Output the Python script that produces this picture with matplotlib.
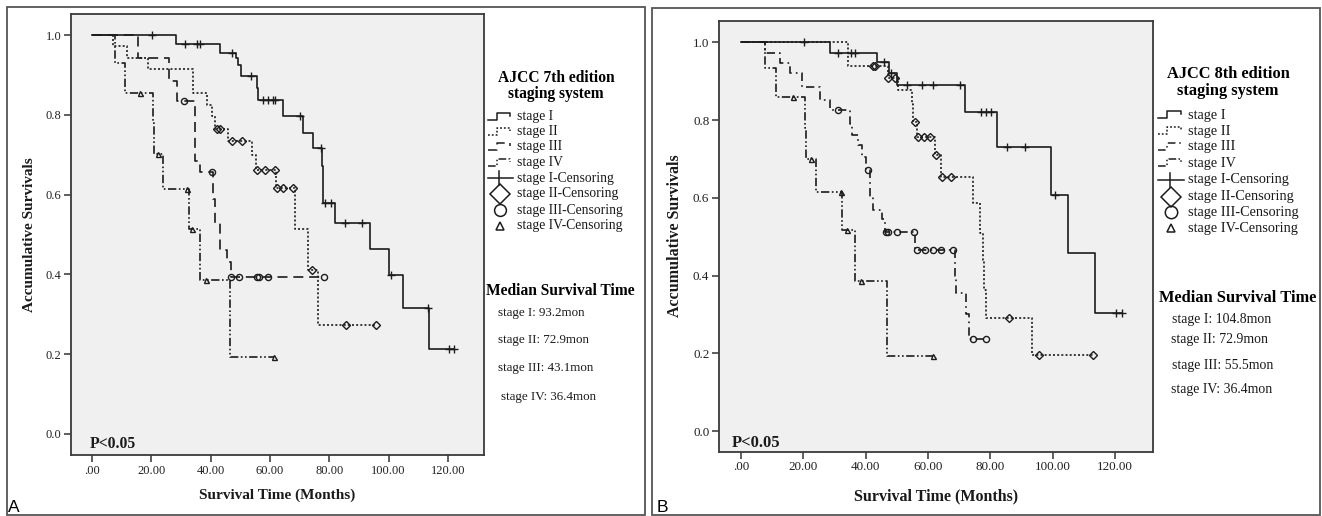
import numpy as np
import matplotlib.pyplot as plt
from matplotlib.lines import Line2D
from matplotlib.patches import Rectangle

plt.rcParams['font.family'] = ['Liberation Serif', 'DejaVu Serif']

W, H = 1322, 516

stages = ['stage I', 'stage II', 'stage III', 'stage IV']

# panel A, AJCC 7th edition: event times (months), survival after event, censor times
a7_I_t = [28.2, 43.2, 48.5, 49.3, 50.1, 55.5, 56.1, 64.5, 71.3, 74.6, 77.5, 78.0, 82.0, 93.8, 100.0, 105.0, 113.7]
a7_I_s = [0.979, 0.956, 0.943, 0.926, 0.897, 0.868, 0.838, 0.797, 0.755, 0.717, 0.671, 0.579, 0.529, 0.463, 0.399, 0.315, 0.212]
a7_I_c = [20.1, 31.4, 35.3, 36.4, 47.2, 53.5, 57.8, 59.5, 60.9, 61.7, 70.2, 77.1, 78.6, 80.5, 85.3, 91.0, 100.8, 113.2, 120.5, 122.0]

a7_II_t = [7.2, 11.9, 19.0, 34.2, 38.7, 40.4, 41.5, 46.0, 53.9, 55.3, 62.2, 68.5, 73.0, 76.3]
a7_II_s = [0.972, 0.943, 0.914, 0.855, 0.826, 0.797, 0.765, 0.734, 0.700, 0.663, 0.617, 0.514, 0.410, 0.273]
a7_II_c = [42.2, 43.0, 47.1, 50.5, 55.5, 58.3, 61.7, 62.5, 64.5, 67.7, 74.3, 85.6, 95.8]

a7_III_t = [15.6, 26.0, 28.6, 34.7, 36.4, 40.9, 41.5, 43.2, 45.4, 46.8]
a7_III_s = [0.943, 0.886, 0.834, 0.685, 0.656, 0.590, 0.529, 0.462, 0.430, 0.394]
a7_III_c = [31.1, 40.4, 46.9, 49.6, 55.5, 56.4, 59.5, 78.3]

a7_IV_t = [7.8, 11.1, 20.5, 20.9, 24.0, 32.8, 36.4, 46.5]
a7_IV_s = [0.931, 0.855, 0.780, 0.703, 0.614, 0.514, 0.385, 0.193]
a7_IV_c = [16.2, 22.4, 31.9, 33.6, 38.3, 61.5]

# panel B, AJCC 8th edition
a8_I_t = [28.5, 43.5, 47.5, 49.9, 71.8, 82.0, 99.6, 104.9, 113.5]
a8_I_s = [0.972, 0.950, 0.920, 0.890, 0.821, 0.731, 0.607, 0.457, 0.304]
a8_I_c = [20.2, 31.2, 35.2, 36.5, 46.0, 48.0, 53.1, 57.9, 61.6, 70.2, 77.1, 78.7, 80.3, 85.2, 91.0, 100.6, 120.4, 122.2]

a8_II_t = [34.4, 47.0, 50.4, 54.7, 55.3, 56.3, 62.2, 64.3, 74.3, 76.6, 77.5, 78.0, 78.5, 93.5]
a8_II_s = [0.940, 0.907, 0.877, 0.840, 0.796, 0.757, 0.710, 0.654, 0.586, 0.509, 0.440, 0.363, 0.291, 0.196]
a8_II_c = [42.4, 43.0, 47.2, 49.4, 55.8, 56.8, 58.7, 60.6, 62.6, 64.6, 67.5, 85.9, 95.6, 113.1]

a8_III_t = [7.6, 12.5, 15.7, 19.4, 25.3, 28.5, 34.9, 35.5, 37.6, 38.7, 40.0, 41.3, 42.4, 45.1, 46.2, 55.8, 68.6, 69.1, 72.3, 73.2]
a8_III_s = [0.972, 0.946, 0.920, 0.885, 0.852, 0.826, 0.790, 0.762, 0.735, 0.706, 0.671, 0.603, 0.569, 0.545, 0.513, 0.467, 0.400, 0.355, 0.300, 0.236]
a8_III_c = [31.2, 40.6, 46.5, 47.2, 49.9, 55.6, 56.3, 59.0, 61.6, 64.3, 68.1, 74.3, 78.5]

a8_IV_t = [7.6, 11.2, 20.5, 20.7, 24.0, 32.5, 36.5, 46.9]
a8_IV_s = [0.933, 0.858, 0.780, 0.700, 0.616, 0.517, 0.386, 0.193]
a8_IV_c = [16.6, 22.3, 31.9, 33.9, 38.5, 61.6]

a7_median = ['stage I: 93.2mon', 'stage II: 72.9mon', 'stage III: 43.1mon', 'stage IV: 36.4mon']
a8_median = ['stage I: 104.8mon', 'stage II: 72.9mon', 'stage III: 55.5mon', 'stage IV: 36.4mon']

x_ticks = [0, 20, 40, 60, 80, 100, 120]
y_ticks = [0.0, 0.2, 0.4, 0.6, 0.8, 1.0]

INK = '#1c1c1c'
markers = [dict(marker='+', ms=6, mew=1.0),
           dict(marker='D', ms=3.6, mew=1.0, mfc='none'),
           dict(marker='o', ms=4.4, mew=1.0, mfc='none'),
           dict(marker='^', ms=3.6, mew=1.0, mfc='none')]
styles_a = ['-', (0, (1.2, 1.3)), (0, (6, 3.5)), (0, (5, 1.5, 1, 1.5, 1, 1.5))]
styles_b = ['-', (0, (1.2, 1.3)), (0, (5, 2.5, 1, 2.5)), (0, (5, 1.5, 1, 1.5, 1, 1.5))]


def fx(x):
    return x / W


def fy(y):
    return 1 - y / H


def km_curve(ax, times, surv, cens, ls, mk):
    times = np.array(times)
    surv = np.array(surv)
    cens = np.array(cens)
    end = max(times.max(), cens.max())
    tt = np.r_[0, times, end]
    ss = np.r_[1.0, surv, surv[-1]]
    ax.step(tt, ss, where='post', color=INK, lw=1.2, ls=ls)
    idx = np.searchsorted(times, cens, side='right')
    cy = np.r_[1.0, surv][idx]
    ax.plot(cens, cy, ls='none', color=INK, mec=INK, **mk)


def panel(fig, rect, data, styles, ylim, xlab_y, ylab_x, p_xy, fs):
    ax = fig.add_axes(rect)
    ax.set_facecolor('#f0f0f0')
    for (t, s, c), ls, mk in zip(data, styles, markers):
        km_curve(ax, t, s, c, ls, mk)
    ax.set_xlim(-7.1, 132.2)
    ax.set_ylim(*ylim)
    ax.set_xticks(x_ticks)
    ax.set_xticklabels([('%.2f' % v).lstrip('0') if v == 0 else '%.2f' % v for v in x_ticks])
    ax.set_yticks(y_ticks)
    ax.set_yticklabels(['%.1f' % v for v in y_ticks])
    ax.tick_params(direction='out', length=5, width=1.1, color='#333333',
                   labelsize=9 * fs, labelcolor='#222222', pad=2)
    for sp in ax.spines.values():
        sp.set_color('#3a3a3a')
        sp.set_linewidth(1.3)
    ax.set_xlabel('Survival Time (Months)', fontweight='bold', fontsize=11 * fs, color='#1a1a1a')
    ax.set_ylabel('Accumulative Survivals', fontweight='bold', fontsize=11 * fs, color='#1a1a1a')
    ax.xaxis.set_label_coords(0.5, xlab_y)
    ax.yaxis.set_label_coords(ylab_x, 0.5)
    ax.text(p_xy[0], p_xy[1], 'P<0.05', transform=ax.transAxes, fontweight='bold',
            fontsize=11.3 * fs, va='baseline', color='#1a1a1a')
    return ax


def side_legend(fig, title, cx, ty, x0, ys, tx, styles, med, mx, my, medx, medys, fs):
    fig.text(fx(cx), fy(ty[0]), title[0], ha='center', va='center', fontweight='bold', fontsize=11.2 * fs)
    fig.text(fx(cx), fy(ty[1]), title[1], ha='center', va='center', fontweight='bold', fontsize=11.2 * fs)
    labels = stages + [s + '-Censoring' for s in stages]
    for i, (lab, y) in enumerate(zip(labels, ys)):
        fig.text(fx(tx), fy(y), lab, ha='left', va='center', fontsize=9.8 * fs, color='#1a1a1a')
        if i < 4:
            px = np.array([0, 9, 9, 22, 22]) * fs + x0
            py = np.array([3, 3, -4, -4, -1]) * fs + y
            fig.add_artist(Line2D(fx(px), fy(py), transform=fig.transFigure,
                                  color=INK, lw=1.1, ls=styles[i]))
        elif i == 4:
            fig.add_artist(Line2D([fx(x0), fx(x0 + 25 * fs)], [fy(y), fy(y)],
                                  transform=fig.transFigure, color=INK, lw=1.1))
            fig.add_artist(Line2D([fx(x0 + 11 * fs)] * 2, [fy(y - 7 * fs), fy(y + 7 * fs)],
                                  transform=fig.transFigure, color=INK, lw=1.1))
        else:
            mk = {5: ('D', 10), 6: ('o', 8.5), 7: ('^', 6)}[i]
            fig.add_artist(Line2D([fx(x0 + 12 * fs)], [fy(y)], transform=fig.transFigure,
                                  ls='none', marker=mk[0], ms=mk[1] * fs, mfc='none',
                                  mec=INK, mew=1.1))
    fig.text(fx(mx), fy(my), 'Median Survival Time', ha='left', va='center',
             fontweight='bold', fontsize=11.2 * fs)
    for lab, xx, y in zip(med, medx, medys):
        fig.text(fx(xx), fy(y), lab, ha='left', va='center', fontsize=9.4 * fs, color='#1a1a1a')


fig = plt.figure(figsize=(W / 100, H / 100), dpi=100)
fig.patch.set_facecolor('white')

# outer frames of the two panels
for x0, y0, x1, y1 in [(7, 7, 645, 515), (652, 8, 1320, 515)]:
    fig.add_artist(Rectangle((fx(x0), fy(y1)), fx(x1 - x0), (y1 - y0) / H,
                             transform=fig.transFigure, fill=False,
                             edgecolor='#555555', lw=1.3))

data7 = [(a7_I_t, a7_I_s, a7_I_c), (a7_II_t, a7_II_s, a7_II_c),
         (a7_III_t, a7_III_s, a7_III_c), (a7_IV_t, a7_IV_s, a7_IV_c)]
data8 = [(a8_I_t, a8_I_s, a8_I_c), (a8_II_t, a8_II_s, a8_II_c),
         (a8_III_t, a8_III_s, a8_III_c), (a8_IV_t, a8_IV_s, a8_IV_c)]

panel(fig, [fx(71), fy(455), fx(484 - 71), (455 - 14) / H], data7, styles_a,
      (-0.053, 1.053), -0.077, -0.085, (0.046, 0.016), 1.0)
panel(fig, [fx(719), fy(451.7), fx(1153 - 719), (451.7 - 20.5) / H], data8, styles_b,
      (-0.053, 1.056), -0.086, -0.083, (0.029, 0.011), 1.05)

side_legend(fig, ['AJCC 7th edition', 'staging system'], 556, (77.5, 94), 488,
            [116.7, 131.7, 146.7, 162.7, 178.3, 194, 210, 225.7], 516.7, styles_a,
            a7_median, 486, 291, [498.3, 498.3, 498.3, 500.7], [313.3, 340, 368.3, 397.3], 1.0)
side_legend(fig, ['AJCC 8th edition', 'staging system'], 1228, (74, 91), 1158,
            [115, 131, 146.7, 163.3, 180, 196.7, 212.3, 228.3], 1188.3, styles_b,
            a8_median, 1159, 297.5, [1171.7, 1170.7, 1171.7, 1170.7], [319, 340, 366, 389.3], 1.05)

fig.text(fx(8), fy(512), 'A', family='Liberation Sans', fontsize=12.5, va='baseline')
fig.text(fx(657), fy(512), 'B', family='Liberation Sans', fontsize=12.5, va='baseline')

fig.savefig('out.png', dpi=100)
